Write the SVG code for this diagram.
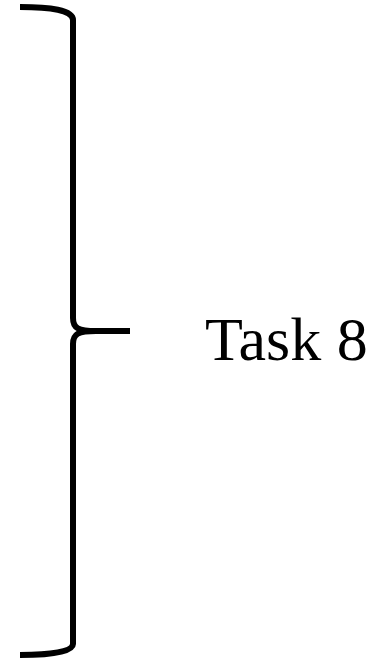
<svg xmlns="http://www.w3.org/2000/svg" width="388" height="658" viewBox="0 0 388 658">
  <style>
    .brace { fill: none; stroke: #000; stroke-width: 6; stroke-linecap: butt; stroke-linejoin: round; }
    .label { font-family: "Liberation Serif", "Times New Roman", serif; font-size: 62px; fill: #000; }
  </style>
  <rect width="388" height="658" fill="#fff"/>
  <g id="connectors">
    <path class="brace" d="M20,7 C50,7 73,10 73,20 V318 C73,328 78,331 96,331 H130 M96,331 C78,331 73,334 73,344 V644 C73,652 50,655 20,655"/>
  </g>
  <g id="task8">
    <text class="label" x="205" y="360">Task 8</text>
  </g>
</svg>
